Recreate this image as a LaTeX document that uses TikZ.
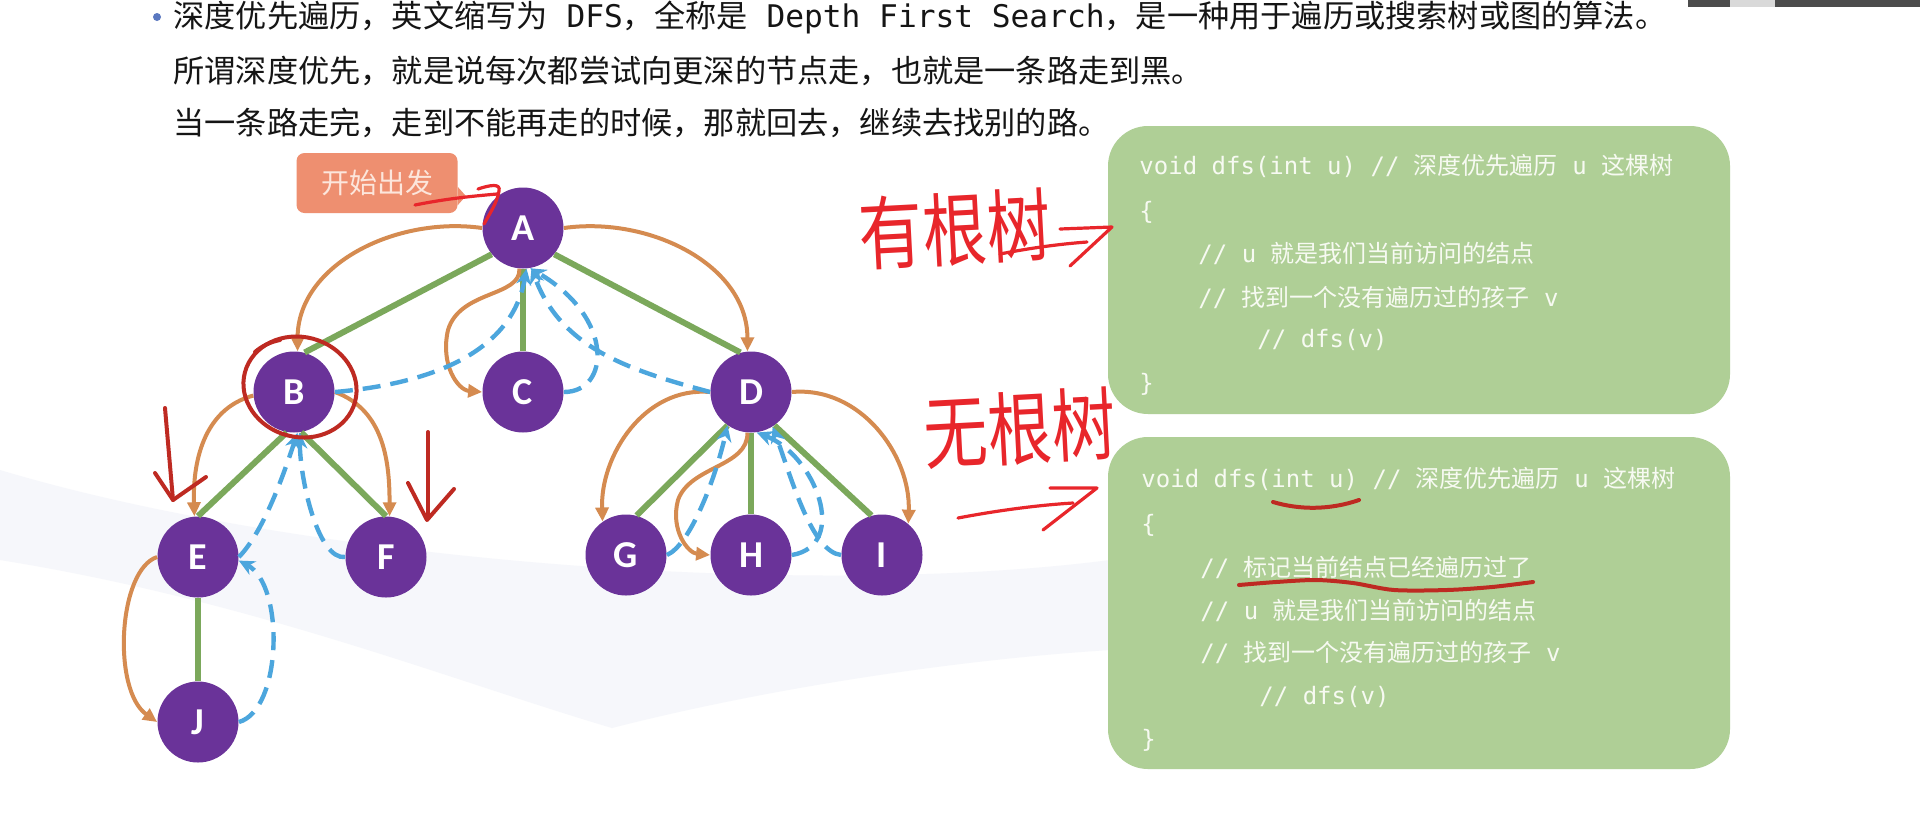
\documentclass[tikz,border=0pt]{standalone}
\usepackage{fontspec}
\usepackage{graphicx}
\setmainfont{Noto Sans CJK SC}
\setmonofont{DejaVu Sans Mono}
\newfontfamily\nodefont{Carlito}
\usetikzlibrary{arrows.meta}
\definecolor{vpurple}{HTML}{6A3399}
\definecolor{tgreen}{HTML}{7BA85B}
\definecolor{gorange}{HTML}{D58B50}
\definecolor{bblue}{HTML}{4CA6DD}
\definecolor{codebg}{HTML}{AFCF96}
\definecolor{codefg}{HTML}{F7FAF2}
\definecolor{tagbg}{HTML}{EE8F70}
\definecolor{tagfg}{HTML}{FCE6DC}
\definecolor{ink}{HTML}{E8262B}
\definecolor{darkink}{HTML}{BE2A22}
\definecolor{bulletc}{HTML}{5A78C0}
\definecolor{swoosh}{HTML}{F6F7FB}
\definecolor{maintext}{HTML}{151515}
\tikzset{
  vtx/.style={circle, fill=vpurple, minimum size=40.5pt, inner sep=0pt, text=white,
    font=\nodefont\bfseries\fontsize{19}{19}\selectfont},
  tree/.style={tgreen, line width=3pt},
  go/.style={gorange, line width=2pt, -{Triangle[length=7pt,width=6.5pt]}},
  back/.style={bblue, line width=2.2pt, dash pattern=on 9pt off 5pt, -{Stealth[length=8pt,width=7.5pt]}},
  codeline/.style={anchor=base west, inner sep=0pt, text=codefg, font=\fontsize{12}{14}\selectfont},
  mainline/.style={anchor=base west, inner sep=0pt, text=maintext, font=\fontsize{15.6}{18}\selectfont},
  codebox/.style={fill=codebg, rounded corners=20pt, inner sep=0pt},
  tagbox/.style={fill=tagbg, rounded corners=4pt, minimum width=80.5pt, minimum height=30pt, inner sep=0pt,
    text=tagfg, font=\fontsize{14}{14}\selectfont},
  hand/.style={ink, line width=1.6pt, line cap=round, line join=round},
  darkhand/.style={darkink, line width=2pt, line cap=round, line join=round},
  handtext/.style={text=ink, inner sep=0pt, font=\fontsize{40}{40}\selectfont}
}
\begin{document}
\begin{tikzpicture}[x=0.5pt,y=-0.5pt]
\useasboundingbox (0,0) rectangle (1920,831);
\fill[white] (0,0) rectangle (1920,831);
% faint background swoosh
\fill[swoosh] (0,560) .. controls (250,600) and (450,680) .. (612,728)
  .. controls (760,690) and (950,660) .. (1110,650) -- (1110,560)
  .. controls (800,600) and (300,560) .. (0,470) -- cycle;
% webcam strip
\fill[black!70] (1688,0) rectangle (1920,7);
\fill[black!15] (1730,0) rectangle (1775,7);

% header text
\fill[bulletc] (157,17) circle (2pt);
\node[mainline] (t1) at (173,27) {深度优先遍历，英文缩写为\texttt{ DFS}，全称是\texttt{ Depth First Search}，是一种用于遍历或搜索树或图的算法。};
\node[mainline] (t2) at (173,82) {所谓深度优先，就是说每次都尝试向更深的节点走，也就是一条路走到黑。};
\node[mainline] (t3) at (173,134) {当一条路走完，走到不能再走的时候，那就回去，继续去找别的路。};

% code boxes
\node[codebox, minimum width=311pt, minimum height=144pt] (box1) at (1419,270) {};
\node[codebox, minimum width=311pt, minimum height=166pt] (box2) at (1419,603) {};

\node[codeline] (c11) at (1139,174) {\texttt{void dfs(int u) // }深度优先遍历\texttt{ u }这棵树};
\node[codeline] (c12) at (1139,219) {\texttt{\{}};
\node[codeline] (c13) at (1198,262) {\texttt{// u }就是我们当前访问的结点};
\node[codeline] (c14) at (1198,306) {\texttt{// }找到一个没有遍历过的孩子\texttt{ v}};
\node[codeline] (c15) at (1257,347) {\texttt{// dfs(v)}};
\node[codeline] (c16) at (1139,391) {\texttt{\}}};

\node[codeline] (c21) at (1141,487) {\texttt{void dfs(int u) // }深度优先遍历\texttt{ u }这棵树};
\node[codeline] (c22) at (1141,532) {\texttt{\{}};
\node[codeline] (c23) at (1200,576) {\texttt{// }标记当前结点已经遍历过了};
\node[codeline] (c24) at (1200,619) {\texttt{// u }就是我们当前访问的结点};
\node[codeline] (c25) at (1200,661) {\texttt{// }找到一个没有遍历过的孩子\texttt{ v}};
\node[codeline] (c26) at (1259,704) {\texttt{// dfs(v)}};
\node[codeline] (c27) at (1141,747) {\texttt{\}}};

% start tag
\node[tagbox] (tag) at (377,183) {开始出发};
\fill[tagbg] ([yshift=-2pt]tag.east) -- ([xshift=4pt,yshift=-6.5pt]tag.east) -- ([yshift=-11pt]tag.east) -- cycle;

% vertices
\node[vtx] (A) at (523,228) {A};
\node[vtx] (B) at (294,392) {B};
\node[vtx] (C) at (523,392) {C};
\node[vtx] (D) at (751,392) {D};
\node[vtx] (E) at (198,557) {E};
\node[vtx] (F) at (386,557) {F};
\node[vtx] (G) at (626,555) {G};
\node[vtx] (H) at (751,555) {H};
\node[vtx] (I) at (882,555) {I};
\node[vtx] (J) at (198,722) {J};

% tree edges
\draw[tree] (A.-140) -- (B.75);
\draw[tree] (A.south) -- (C.north);
\draw[tree] (A.-40) -- (D.105);
\draw[tree] (B.-100) -- (E.north);
\draw[tree] (B.-80) -- (F.north);
\draw[tree] (D.-125) -- (G.75);
\draw[tree] (D.south) -- (H.north);
\draw[tree] (D.-55) -- (I.105);
\draw[tree] (E.south) -- (J.north);

% forward (orange) arrows
\draw[go] (A.west) to[out=172,in=90] (B.85);
\draw[go] (A.east) to[out=8,in=90] (D.95);
\draw[go] (A.-95) .. controls (521,297) and (460,290) .. (448,330) .. controls (440,365) and (458,390) .. (C.west);
\draw[go] (B.185) to[out=195,in=92] (E.95);
\draw[go] (B.east) to[out=-20,in=90] (F.85);
\draw[go] (E.west) .. controls (118,570) and (112,690) .. (J.west);
\draw[go] (D.west) to[out=175,in=92] (G.125);
\draw[go] (D.east) to[out=5,in=88] (I.50);
\draw[go] (D.-95) .. controls (748,467) and (690,466) .. (678,500) .. controls (670,530) and (688,553) .. (H.west);

% backtracking (blue dashed) arrows
\draw[back] (B.east) to[out=5,in=-100] (A.-85);
\draw[back] (C.east) .. controls (610,392) and (615,318) .. (A.-80);
\draw[back] (D.west) to[out=165,in=-70] (A.-78);
\draw[back] (E.east) .. controls (265,530) and (285,470) .. (B.-85);
\draw[back] (F.west) .. controls (318,560) and (300,480) .. (B.-82);
\draw[back] (J.east) .. controls (282,710) and (285,585) .. (E.-5);
\draw[back] (G.east) .. controls (690,545) and (715,480) .. (D.-125);
\draw[back] (H.east) .. controls (850,545) and (815,455) .. (D.-82);
\draw[back] (I.west) .. controls (812,552) and (792,480) .. (D.-58);

% handwritten annotations
\draw[hand] (415,205) .. controls (450,198) and (475,196) .. (497,194);
\draw[hand] (478,189) .. controls (490,185) and (501,183) .. (499,191) .. controls (497,203) and (490,213) .. (484,224);
\draw[darkhand, rotate around={-15:(300,387)}] (300,387) ellipse [x radius=28.5pt, y radius=25pt];
\draw[darkhand] (255,352) .. controls (262,346) and (270,342) .. (280,340);
\draw[darkhand] (165,408) -- (173,500);
\draw[darkhand] (155,473) -- (173,500) -- (206,477);
\draw[darkhand] (428,432) -- (428,517);
\draw[darkhand] (408,483) -- (427,520) -- (454,489);

\node[handtext, rotate=3] (hw1) at (955,229) {\scalebox{0.8}[1]{有根树}};
\draw[hand] (1000,254) .. controls (1030,248) and (1060,244) .. (1087,242);
\draw[hand] (1060,229) -- (1112,227) -- (1070,266);
\node[handtext, rotate=3] (hw2) at (1020,428) {\scalebox{0.8}[1]{无根树}};
\draw[hand] (958,518) .. controls (1000,510) and (1040,505) .. (1073,503);
\draw[hand] (1050,488) -- (1097,488) -- (1043,530);

\draw[darkhand] (1273,502) .. controls (1300,510) and (1330,510) .. (1359,500);
\draw[darkhand] plot[smooth] coordinates {(1239,585) (1276,582) (1316,580) (1353,583) (1394,590) (1447,590) (1492,587) (1533,582)};
\end{tikzpicture}
\end{document}
